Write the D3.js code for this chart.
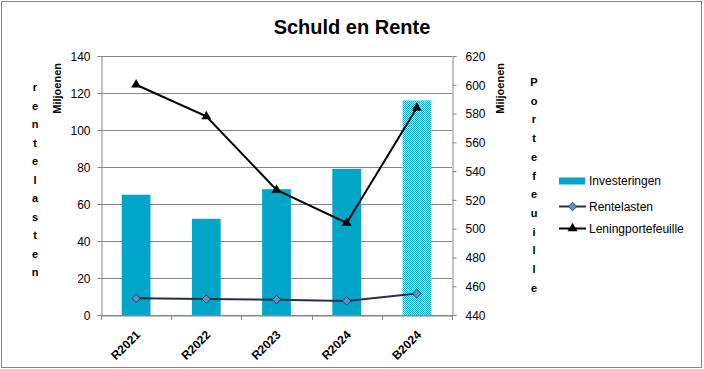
<!DOCTYPE html>
<html><head><meta charset="utf-8">
<script src="https://cdn.jsdelivr.net/npm/d3@7"></script>
<style>
html,body{margin:0;padding:0;background:#fff;}
svg{display:block;font-family:"Liberation Sans",Arial,sans-serif;}
</style></head>
<body>
<svg id="chart" width="704" height="369"></svg>
<script>
const categories = ["R2021","R2022","R2023","R2024","B2024"];
const investeringen = [65, 52, 68, 79, 116];
const rentelasten = [9.0, 8.6, 8.3, 7.6, 11.6];
const leningportefeuille = [600, 578, 527, 504, 584];
const leftTicks = [0,20,40,60,80,100,120,140];
const rightTicks = [440,460,480,500,520,540,560,580,600,620];
const seriesNames = ["Investeringen","Rentelasten","Leningportefeuille"];
const title = "Schuld en Rente";
const leftTitle = "Miljoenen", rightTitle = "Miljoenen";
const leftStack = "rentelasten", rightStack = "Portefeuille";

const barColor = "#00a5c9", gridColor = "#868686";
const svg = d3.select("#chart");

// patterns
const defs = svg.append("defs");
const pat = defs.append("pattern").attr("id","checker").attr("patternUnits","userSpaceOnUse")
  .attr("width",2).attr("height",2);
pat.append("rect").attr("width",2).attr("height",2).attr("fill","#fff");
pat.append("rect").attr("x",0).attr("y",0).attr("width",1).attr("height",1).attr("fill",barColor);
pat.append("rect").attr("x",1).attr("y",1).attr("width",1).attr("height",1).attr("fill",barColor);

// border
svg.append("rect").attr("x",1.5).attr("y",1.5).attr("width",700).attr("height",366)
  .attr("fill","#fff").attr("stroke",gridColor).attr("stroke-width",1);

const L = 101, R = 452, T = 56, B = 315;
const x = d3.scaleBand().domain(categories).range([L,R]).padding(0);
const yL = d3.scaleLinear().domain([0,140]).range([B,T]);
const yR = d3.scaleLinear().domain([440,620]).range([B,T]);

// gridlines
svg.append("g").selectAll("line").data(leftTicks).join("line")
  .attr("x1",L).attr("x2",R).attr("y1",d=>Math.round(yL(d))+0.5).attr("y2",d=>Math.round(yL(d))+0.5)
  .attr("stroke",gridColor).attr("stroke-width",1);

// bars
const bw = x.bandwidth()*0.41;
svg.append("g").selectAll("rect").data(categories).join("rect")
  .attr("x",(d)=>x(d)+x.bandwidth()/2-bw/2)
  .attr("y",(d,i)=>yL(investeringen[i]))
  .attr("width",bw)
  .attr("height",(d,i)=>yL(0)-yL(investeringen[i]))
  .attr("fill",(d,i)=>d.startsWith("B") ? "url(#checker)" : barColor);

// axes
const axL = svg.append("g").attr("transform",`translate(${L+0.5},0)`)
  .call(d3.axisLeft(yL).tickValues(leftTicks).tickSize(4).tickPadding(7).tickFormat(d3.format("d")));
const axR = svg.append("g").attr("transform",`translate(${R+0.5},0)`)
  .call(d3.axisRight(yR).tickValues(rightTicks).tickSize(4).tickPadding(9).tickFormat(d3.format("d")));
const axB = svg.append("g").attr("transform",`translate(0,${B+0.5})`)
  .call(d3.axisBottom(x).tickSize(0).tickPadding(0));
[axL,axR,axB].forEach(a=>{
  a.select(".domain").attr("stroke",gridColor);
  a.selectAll(".tick line").attr("stroke",gridColor);
  a.selectAll("text").attr("font-size",12).attr("fill","#000").attr("font-family","Liberation Sans, Arial, sans-serif");
});
axL.selectAll(".tick text").attr("dy","0.36em");
axR.selectAll(".tick text").attr("dy","0.36em");
// x boundary ticks
const bounds = categories.map(c=>x(c)).concat([R]);
svg.append("g").selectAll("line").data(bounds).join("line")
  .attr("x1",d=>Math.round(d)+0.5).attr("x2",d=>Math.round(d)+0.5).attr("y1",B).attr("y2",B+5)
  .attr("stroke",gridColor);
axB.selectAll(".tick text")
  .attr("font-weight","bold").attr("font-size",12)
  .attr("text-anchor","end").attr("dy",0).attr("y",0)
  .attr("transform","translate(5,20) rotate(-45)");

// lines
const cx = d=>x(d)+x.bandwidth()/2;
const lineR = d3.line().x((d,i)=>cx(categories[i])).y(d=>yL(d));
svg.append("path").datum(rentelasten).attr("d",lineR).attr("fill","none")
  .attr("stroke","#27313f").attr("stroke-width",2);
svg.append("g").selectAll("path").data(rentelasten).join("path")
  .attr("d",d3.symbol(d3.symbolSquare, 36))
  .attr("transform",(d,i)=>`translate(${cx(categories[i])},${yL(d)}) rotate(45)`)
  .attr("fill","#5d8fd0").attr("stroke","#27313f").attr("stroke-width",0.8);

const lineP = d3.line().x((d,i)=>cx(categories[i])).y(d=>yR(d));
svg.append("path").datum(leningportefeuille).attr("d",lineP).attr("fill","none")
  .attr("stroke","#000").attr("stroke-width",2);
svg.append("g").selectAll("path").data(leningportefeuille).join("path")
  .attr("d",d3.symbol(d3.symbolTriangle, 42))
  .attr("transform",(d,i)=>`translate(${cx(categories[i])},${yR(d)})`)
  .attr("fill","#000");

// title
svg.append("text").attr("x",352).attr("y",34).attr("text-anchor","middle")
  .attr("font-size",20).attr("font-weight","bold").text(title);

// axis titles
svg.append("text").attr("transform","translate(61,63) rotate(-90)").attr("text-anchor","end")
  .attr("font-size",11).attr("font-weight","bold").text(leftTitle);
svg.append("text").attr("transform","translate(504,63) rotate(-90)").attr("text-anchor","end")
  .attr("font-size",11).attr("font-weight","bold").text(rightTitle);

function stack(str, xPos, y0, step){
  const t = svg.append("text").attr("text-anchor","middle").attr("font-size",11).attr("font-weight","bold");
  str.split("").forEach((ch,i)=>{
    t.append("tspan").attr("x",xPos).attr("y",y0+i*step).text(ch);
  });
}
stack(leftStack, 35, 91, 18.5);
stack(rightStack, 534, 86, 18.7);

// legend
const lg = svg.append("g").attr("font-size",12);
const ly = [181, 206.5, 228.5];
lg.append("rect").attr("x",559).attr("y",ly[0]-3.5).attr("width",26).attr("height",7).attr("fill",barColor);
lg.append("line").attr("x1",559).attr("x2",586).attr("y1",ly[1]).attr("y2",ly[1]).attr("stroke","#27313f").attr("stroke-width",2);
lg.append("path").attr("d",d3.symbol(d3.symbolSquare,36)).attr("transform",`translate(572.5,${ly[1]}) rotate(45)`)
  .attr("fill","#5d8fd0").attr("stroke","#27313f").attr("stroke-width",0.8);
lg.append("line").attr("x1",559).attr("x2",586).attr("y1",ly[2]).attr("y2",ly[2]).attr("stroke","#000").attr("stroke-width",2);
lg.append("path").attr("d",d3.symbol(d3.symbolTriangle,42)).attr("transform",`translate(572.5,${ly[2]})`).attr("fill","#000");
lg.selectAll("text.lbl").data(seriesNames).join("text").attr("class","lbl")
  .attr("x",589).attr("y",(d,i)=>ly[i]).attr("dy","0.36em").text(d=>d);
</script>
</body></html>
